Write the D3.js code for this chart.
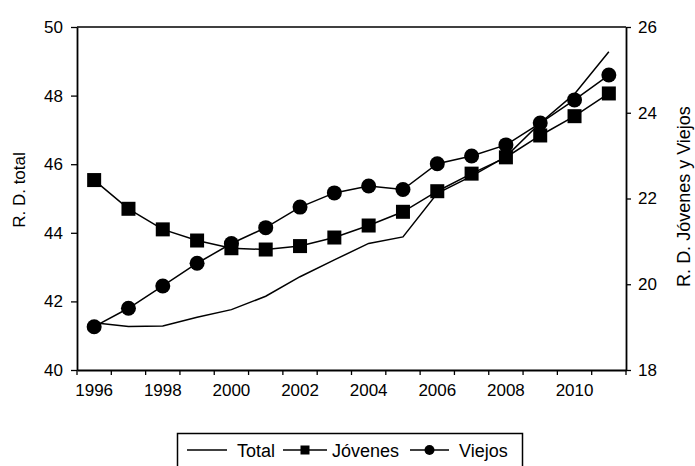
<!DOCTYPE html>
<html>
<head>
<meta charset="utf-8">
<script src="https://cdn.jsdelivr.net/npm/d3@7"></script>
<style>
  html, body { margin: 0; padding: 0; background: #fff; }
  svg { display: block; font-family: "Liberation Sans", Arial, sans-serif; }
</style>
</head>
<body>
<svg id="chart" width="695" height="466"></svg>
<script>
const years = [1996, 1997, 1998, 1999, 2000, 2001, 2002, 2003, 2004, 2005, 2006, 2007, 2008, 2009, 2010, 2011];
const total = [41.38, 41.27, 41.28, 41.54, 41.76, 42.15, 42.72, 43.21, 43.69, 43.88, 45.15, 45.65, 46.22, 47.2, 48.05, 49.28];
const jovenes = [22.43, 21.76, 21.28, 21.02, 20.84, 20.81, 20.89, 21.09, 21.37, 21.69, 22.17, 22.58, 22.96, 23.47, 23.92, 24.45];
const viejos = [19.01, 19.44, 19.96, 20.49, 20.95, 21.32, 21.8, 22.13, 22.29, 22.21, 22.81, 22.99, 23.25, 23.76, 24.3, 24.88];
const xTickLabels = [1996, 1998, 2000, 2002, 2004, 2006, 2008, 2010];
const leftTicks = [40, 42, 44, 46, 48, 50];
const rightTicks = [18, 20, 22, 24, 26];
const leftTitle = "R. D. total";
const rightTitle = "R. D. Jóvenes y Viejos";
const legendLabels = ["Total", "Jóvenes", "Viejos"];

const svg = d3.select("#chart");
const L = 77, R = 626, T = 27, B = 370;

const x = d3.scaleBand().domain(years).range([L, R]).padding(0);
const yL = d3.scaleLinear().domain([40, 50]).range([B, T]);
const yR = d3.scaleLinear().domain([18, 26]).range([B, T]);
const cx = d => x(d) + x.bandwidth() / 2;

// top frame line
svg.append("line").attr("x1", L).attr("x2", R).attr("y1", T).attr("y2", T)
  .attr("stroke", "#000").attr("stroke-width", 1.5);

// left axis
const gL = svg.append("g").attr("transform", `translate(${L},0)`)
  .call(d3.axisLeft(yL).tickValues(leftTicks).tickSize(6).tickSizeOuter(0).tickPadding(8));
// right axis
const gR = svg.append("g").attr("transform", `translate(${R},0)`)
  .call(d3.axisRight(yR).tickValues(rightTicks).tickSize(5).tickSizeOuter(0).tickPadding(7));
// bottom axis: labels
const gB = svg.append("g").attr("transform", `translate(0,${B})`)
  .call(d3.axisBottom(x).tickValues(xTickLabels).tickSize(0).tickSizeOuter(0).tickPadding(14));
// bottom tick marks at band boundaries
const boundaries = years.map(d => x(d)).concat([x(years[years.length - 1]) + x.bandwidth()]);
svg.append("g").selectAll("line").data(boundaries).join("line")
  .attr("x1", d => d).attr("x2", d => d).attr("y1", B).attr("y2", B + 5)
  .attr("stroke", "#000").attr("stroke-width", 1.3);

[gL, gR, gB].forEach(g => {
  g.selectAll("path.domain").attr("stroke", "#000").attr("stroke-width", 1.8);
  g.selectAll(".tick line").attr("stroke", "#000").attr("stroke-width", 1.3);
  g.selectAll("text").attr("fill", "#000").style("font-size", "17px")
    .style("font-family", "'Liberation Sans', Arial, sans-serif");
});

// axis titles
svg.append("text").attr("transform", `translate(25,190) rotate(-90)`)
  .attr("text-anchor", "middle").style("font-size", "17px").text(leftTitle);
svg.append("text").attr("transform", `translate(690,196.5) rotate(-90)`)
  .attr("text-anchor", "middle").style("font-size", "18px").text(rightTitle);

// lines
const lineL = d3.line().x((d, i) => cx(years[i])).y(d => yL(d));
const lineR = d3.line().x((d, i) => cx(years[i])).y(d => yR(d));

svg.append("path").datum(total).attr("d", lineL)
  .attr("fill", "none").attr("stroke", "#000").attr("stroke-width", 1.5);
svg.append("path").datum(jovenes).attr("d", lineR)
  .attr("fill", "none").attr("stroke", "#000").attr("stroke-width", 1.5);
svg.append("path").datum(viejos).attr("d", lineR)
  .attr("fill", "none").attr("stroke", "#000").attr("stroke-width", 1.5);

const sq = 14;
svg.append("g").selectAll("rect").data(jovenes).join("rect")
  .attr("x", (d, i) => cx(years[i]) - sq / 2).attr("y", d => yR(d) - sq / 2)
  .attr("width", sq).attr("height", sq).attr("fill", "#000");
svg.append("g").selectAll("circle").data(viejos).join("circle")
  .attr("cx", (d, i) => cx(years[i])).attr("cy", d => yR(d)).attr("r", 7.5).attr("fill", "#000");

// legend
const lg = svg.append("g");
lg.append("rect").attr("x", 177.5).attr("y", 433.5).attr("width", 345).attr("height", 45)
  .attr("fill", "none").attr("stroke", "#000").attr("stroke-width", 1.5);
const ly = 450;
const items = [
  { x1: 187, x2: 227, tx: 237, marker: null },
  { x1: 283, x2: 327, tx: 332, marker: "square" },
  { x1: 410, x2: 449, tx: 459, marker: "circle" }
];
items.forEach((it, i) => {
  lg.append("line").attr("x1", it.x1).attr("x2", it.x2).attr("y1", ly).attr("y2", ly)
    .attr("stroke", "#000").attr("stroke-width", 1.5);
  const mx = (it.x1 + it.x2) / 2;
  if (it.marker === "square") {
    lg.append("rect").attr("x", mx - 4.5).attr("y", ly - 4.5).attr("width", 9).attr("height", 9).attr("fill", "#000");
  } else if (it.marker === "circle") {
    lg.append("circle").attr("cx", mx).attr("cy", ly).attr("r", 5).attr("fill", "#000");
  }
  lg.append("text").attr("x", it.tx).attr("y", ly + 6.5).style("font-size", "18px").text(legendLabels[i]);
});
</script>
</body>
</html>
